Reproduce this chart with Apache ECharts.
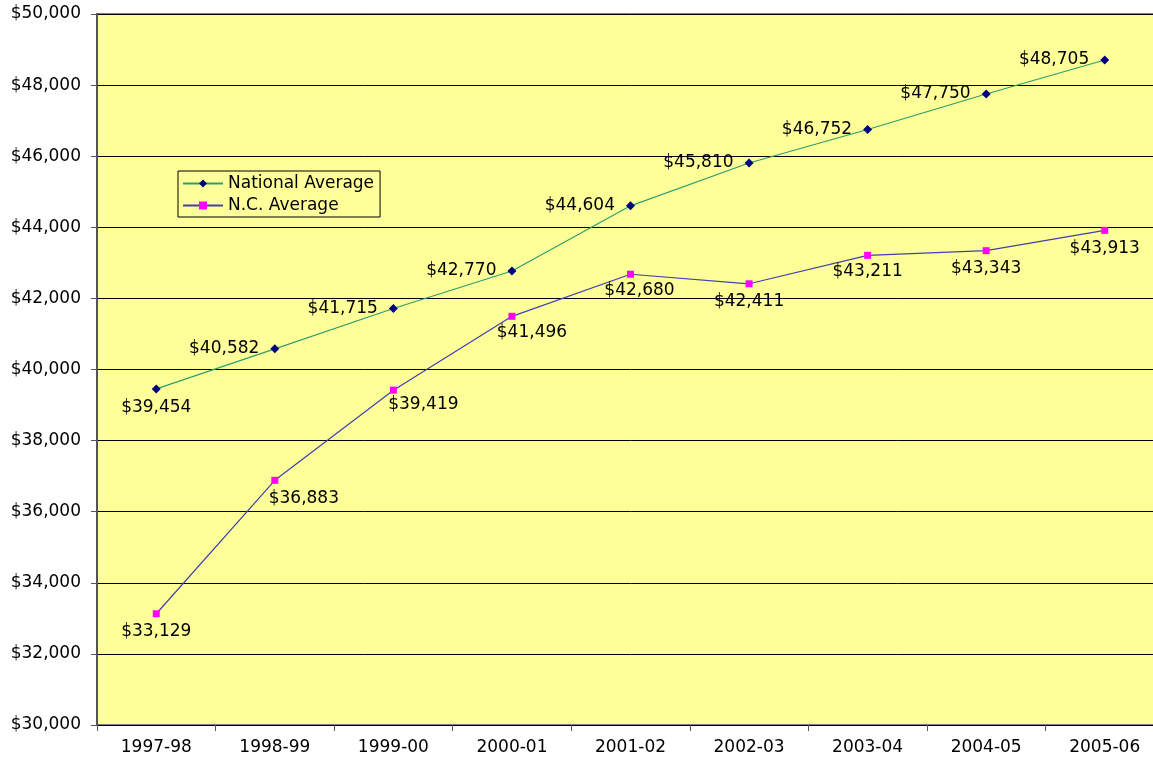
<!DOCTYPE html>
<html>
<head>
<meta charset="utf-8">
<script src="https://cdn.jsdelivr.net/npm/echarts@6/dist/echarts.min.js"></script>
<style>html,body{margin:0;padding:0;background:#fff;overflow:hidden;width:1153px;height:757px;}#c{width:1164px;height:757px;}</style>
</head>
<body>
<div id="c"></div>
<script>
const categories = ['1997-98','1998-99','1999-00','2000-01','2001-02','2002-03','2003-04','2004-05','2005-06'];
const nationalAvg = [39454, 40582, 41715, 42770, 44604, 45810, 46752, 47750, 48705];
const ncAvg = [33129, 36883, 39419, 41496, 42680, 42411, 43211, 43343, 43913];
const yTicks = { min: 30000, max: 50000, interval: 2000 };
// label placement tweaks (style only)
const natLabelPos = ['bottom','left','left','left','left','left','left','left','left'];
const ncLabelShift = [[0,0],[29,0],[30,-4],[20,-2],[9,-2],[0,0],[0,-2],[0,0],[0,0]];

const fmt = v => '$' + v.toLocaleString('en-US');
const FONT = 'DejaVu Sans';

const chart = echarts.init(document.getElementById('c'));
chart.setOption({
  animation: false,
  backgroundColor: '#ffffff',
  grid: {
    left: 97, top: 14, right: 0, height: 711,
    show: true, backgroundColor: '#FFFF99', borderColor: '#808080', borderWidth: 2
  },
  legend: {
    left: 178, top: 171, orient: 'vertical',
    backgroundColor: '#FFFF99', borderColor: '#000', borderWidth: 1,
    padding: [4, 6, 3, 4], itemGap: 5, itemWidth: 40, itemHeight: 10,
    textStyle: { fontFamily: FONT, fontSize: 17, color: '#000' },
    data: ['National Average', 'N.C. Average']
  },
  xAxis: {
    type: 'category', data: categories, boundaryGap: true,
    axisLine: { lineStyle: { color: '#000', width: 1 } },
    axisTick: { show: true, length: 6, lineStyle: { color: '#555' } },
    axisLabel: { fontFamily: FONT, fontSize: 17, color: '#000', margin: 14 },
    splitLine: { show: false }
  },
  yAxis: {
    type: 'value', min: yTicks.min, max: yTicks.max, interval: yTicks.interval,
    axisLine: { show: true, lineStyle: { color: '#555', width: 2 } },
    axisTick: { show: true, length: 6, lineStyle: { color: '#555' } },
    axisLabel: { fontFamily: FONT, fontSize: 17, color: '#000', margin: 16, formatter: fmt },
    splitLine: { show: true, lineStyle: { color: '#000', width: 1 } }
  },
  series: [
    {
      name: 'National Average', type: 'line',
      data: nationalAvg.map((v, i) => ({
        value: v,
        label: { position: natLabelPos[i], distance: natLabelPos[i] === 'bottom' ? 6 : 11 }
      })),
      symbol: 'diamond', symbolSize: 9,
      itemStyle: { color: '#000080' },
      lineStyle: { color: '#2E9E6E', width: 1.2 },
      label: { show: true, fontFamily: FONT, fontSize: 17, color: '#000', formatter: p => fmt(p.value) },
      z: 3
    },
    {
      name: 'N.C. Average', type: 'line',
      data: ncAvg.map((v, i) => ({
        value: v,
        label: { offset: ncLabelShift[i] }
      })),
      symbol: 'rect', symbolSize: 7,
      itemStyle: { color: '#FF00FF' },
      lineStyle: { color: '#4040B0', width: 1.2 },
      label: { show: true, position: 'bottom', distance: 6, fontFamily: FONT, fontSize: 17, color: '#000', formatter: p => fmt(p.value) },
      z: 3
    }
  ]
});
</script>
</body>
</html>
